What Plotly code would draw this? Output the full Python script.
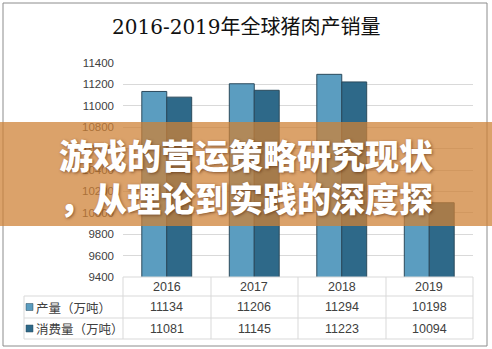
import plotly.graph_objects as go

years = ["2016", "2017", "2018", "2019"]
production = [11134, 11206, 11294, 10198]
consumption = [11081, 11145, 11223, 10094]
series_names = ["产量（万吨）", "消费量（万吨）"]
series_colors = ["#5B9DC0", "#2E6989"]
title_text = "2016-2019年全球猪肉产销量"
banner_lines = ["游戏的营运策略研究现状", "，从理论到实践的深度探"]

W, H = 492, 349
L, R, T, B = 123, 473, 63, 277  # plot area in pixels


def px(x):
    return (x - L) / (R - L)


def py(y):
    return (B - y) / (B - T)


fig = go.Figure()
for vals, color in zip([production, consumption], series_colors):
    fig.add_trace(go.Bar(
        x=years, y=vals, marker=dict(color=color, line=dict(color="#2B4A5C", width=1)),
        showlegend=False,
    ))

grid = "#D9D9D9"
shapes = []
# data table grid
for yy, x0 in [(277, 123), (296, 24), (318, 24), (339, 24)]:
    shapes.append(dict(type="line", xref="paper", yref="paper", x0=px(x0), x1=px(473),
                       y0=py(yy), y1=py(yy), line=dict(color=grid, width=1)))
for xx in [123, 211, 298, 386, 473]:
    shapes.append(dict(type="line", xref="paper", yref="paper", x0=px(xx), x1=px(xx),
                       y0=py(277), y1=py(339), line=dict(color=grid, width=1)))
shapes.append(dict(type="line", xref="paper", yref="paper", x0=px(24), x1=px(24),
                   y0=py(296), y1=py(339), line=dict(color=grid, width=1)))
# legend keys in the table
row_y = [307, 328.5]
for i, color in enumerate(series_colors):
    cy = row_y[i]
    shapes.append(dict(type="rect", xref="paper", yref="paper", x0=px(26), x1=px(33),
                       y0=py(cy + 3.5), y1=py(cy - 3.5), fillcolor=color,
                       line=dict(color="#2B4A5C", width=0.5)))
# outer frame
shapes.append(dict(type="rect", xref="paper", yref="paper", x0=px(3), x1=px(487),
                   y0=py(346), y1=py(3), line=dict(color="#8C8C8C", width=1)))
# translucent banner
shapes.append(dict(type="rect", xref="paper", yref="paper", x0=px(-2), x1=px(494),
                   y0=py(226), y1=py(122), fillcolor="rgba(206,130,54,0.74)",
                   line=dict(width=0), layer="above"))

num_font = dict(family="Liberation Sans, Noto Sans", size=12.5, color="#404040")
annotations = []
annotations.append(dict(text=title_text, xref="paper", yref="paper", x=px(246), y=py(27),
                        xanchor="center", yanchor="middle", showarrow=False,
                        font=dict(family="DejaVu Serif, Noto Sans CJK SC", size=20,
                                  color="#111111")))
# table header: years
for k, yr in enumerate(years):
    annotations.append(dict(text=yr, xref="x", yref="paper", x=k, y=py(286.5),
                            xanchor="center", yanchor="middle", showarrow=False,
                            font=num_font))
# table rows
for i, (name, vals) in enumerate(zip(series_names, [production, consumption])):
    cy = row_y[i]
    annotations.append(dict(text=name, xref="paper", yref="paper", x=px(34), y=py(cy),
                            xanchor="left", yanchor="middle", showarrow=False,
                            font=dict(family="Noto Sans CJK SC", size=12.5, color="#404040")))
    for k, v in enumerate(vals):
        annotations.append(dict(text=str(v), xref="x", yref="paper", x=k, y=py(cy),
                                xanchor="center", yanchor="middle", showarrow=False,
                                font=num_font))
for line, cy in zip(banner_lines, [154, 197]):
    annotations.append(dict(text=line, xref="paper", yref="paper", x=px(246), y=py(cy),
                            xanchor="center", yanchor="middle", showarrow=False,
                            font=dict(family="Noto Sans CJK SC", size=34, color="white",
                                      weight=900, shadow="1px 1px 3px rgba(70,25,0,0.55)")))

fig.update_layout(
    width=W, height=H, margin=dict(l=L, r=W - R, t=T, b=H - B),
    paper_bgcolor="white", plot_bgcolor="white",
    barmode="group", bargap=0.43, bargroupgap=0,
    shapes=shapes, annotations=annotations,
    xaxis=dict(type="category", range=[-0.5, len(years) - 0.5], autorange=False,
               showgrid=False, showline=False, ticks="", showticklabels=False),
    yaxis=dict(range=[9400, 11400], dtick=200, tickformat="d", gridcolor=grid,
               zeroline=False, showline=False, ticks="", ticklabelstandoff=8,
               tickfont=dict(family="Liberation Sans, Noto Sans", size=11.5, color="#404040")),
)

fig.write_html("out.html")
